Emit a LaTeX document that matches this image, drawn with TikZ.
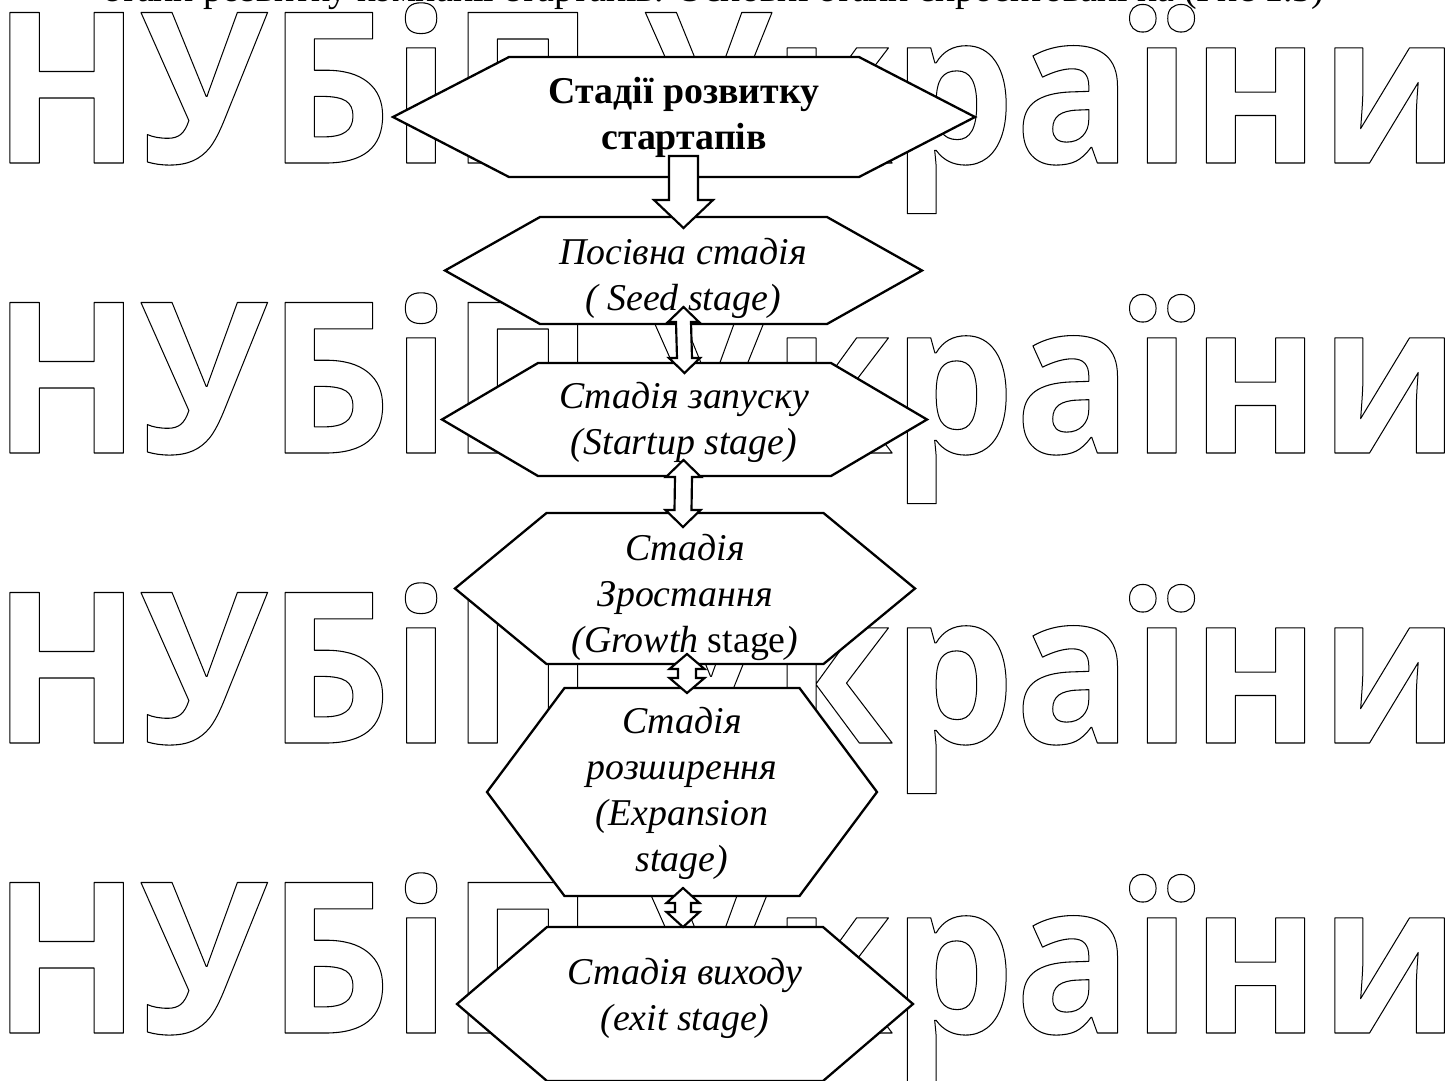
\documentclass[tikz,border=0pt]{standalone}
\usepackage{fontspec}
\setmainfont{Liberation Serif}
\newfontfamily\wmfont{Open Sans}
\usetikzlibrary{calc}

\tikzset{
  hexbox/.style={draw, line width=0.85pt, fill=white},
  blockarrow/.style={draw, line width=0.8pt, fill=white},
  stagetext/.style={align=center, inner sep=0pt, font=\itshape\fontsize{14}{17}\selectfont},
  titletext/.style={align=center, inner sep=0pt, font=\bfseries\fontsize{14}{17}\selectfont},
  wmtext/.style={anchor=base west, inner sep=0pt, font=\wmfont\bfseries\fontsize{78}{80}\selectfont}
}

% esagono: nome, cx, cy, semilarghezza, rientro, semialtezza
\newcommand{\hexa}[6]{%
  \draw[hexbox] (#2-#4,#3) -- (#2-#4+#5,#3+#6) -- (#2+#4-#5,#3+#6) -- (#2+#4,#3)
    -- (#2+#4-#5,#3-#6) -- (#2-#4+#5,#3-#6) -- cycle;
  \coordinate (#1-n) at (#2,#3+#6);
  \coordinate (#1-s) at (#2,#3-#6);
}
% freccia piena: inizio, punta, mezzo fusto, mezza testa, lunghezza testa
\newcommand{\stagearrow}[5]{%
  \draw[blockarrow] ($(#1)+(-#3,0)$) -- ($(#1)+(#3,0)$) -- ($(#2)+(#3,#5)$) -- ($(#2)+(#4,#5)$)
    -- (#2) -- ($(#2)+(-#4,#5)$) -- ($(#2)+(-#3,#5)$) -- cycle;
}
% freccia doppia: punta alta, punta bassa, mezzo fusto, mezza testa, lunghezza testa
\newcommand{\dblstage}[5]{%
  \draw[blockarrow] (#1) -- ($(#1)+(#4,-#5)$) -- ($(#1)+(#3,-#5)$) -- ($(#2)+(#3,#5)$) -- ($(#2)+(#4,#5)$)
    -- (#2) -- ($(#2)+(-#4,#5)$) -- ($(#2)+(-#3,#5)$) -- ($(#1)+(-#3,-#5)$) -- ($(#1)+(-#4,-#5)$) -- cycle;
}
% filigrana solo contorno
\newcommand{\wmline}{\scalebox{0.92}[1]{\special{pdf:literal direct 1 Tr 0.4 w 1 j}НУБіП України\special{pdf:literal direct 0 Tr}}}

\begin{document}
\begin{tikzpicture}[x=0.013cm, y=0.013cm]
    \useasboundingbox (0,0) rectangle (1455,-1080);
    % Riga di testo tagliata in alto
    \node[anchor=base west, inner sep=0pt, font=\fontsize{14}{17}\selectfont] (intro) at (103,-1)
      {етапи розвитку компанії стартапів. Основні етапи спроектовані на (Рис 1.3)};
    % Filigrana
    \foreach \r [count=\i] in {163,453,743,1033}
      \node[wmtext] (wm\i) at (-8,-\r) {\wmline};
    % Esagoni
    \hexa{title}{684}{-117}{291}{116}{60}
    \hexa{seed}{683.5}{-270.5}{238.5}{95}{53.5}
    \hexa{start}{684.5}{-419.5}{242.5}{96}{56.5}
    \hexa{growth}{685}{-588.5}{230}{91.5}{75.5}
    \hexa{exp}{682}{-792}{195}{77.5}{104}
    \hexa{exit}{685}{-1004}{228}{90}{77}
    % Estremi delle frecce
    \coordinate (a0) at ($(title-s)+(-0.5,21)$);
    \coordinate (b0) at ($(seed-n)+(0,-11)$);
    \coordinate (a1) at ($(seed-s)+(0,17)$);
    \coordinate (b1) at ($(start-n)+(0,-10)$);
    \coordinate (a2) at ($(start-s)+(-1,16)$);
    \coordinate (b2) at ($(growth-n)+(-2,-14)$);
    \coordinate (a3) at ($(growth-s)+(2,10)$);
    \coordinate (b3) at ($(exp-n)+(5,-5)$);
    \coordinate (a4) at ($(exp-s)+(1,8)$);
    \coordinate (b4) at ($(exit-n)+(-2,0)$);
    % Frecce
    \stagearrow{a0}{b0}{14.5}{29.5}{28}
    \dblstage{a1}{b1}{7.5}{15.5}{15}
    \dblstage{a2}{b2}{8.5}{17.5}{17}
    \dblstage{a3}{b3}{9}{17.5}{15}
    \dblstage{a4}{b4}{8}{16.5}{15}
    % Testi
    \node[titletext] (title) at (684,-117) {Стадії розвитку\\стартапів};
    \node[stagetext] (seed) at (683,-278) {Посівна стадія\\( Seed stage)};
    \node[stagetext] (start) at (684,-422) {Стадія запуску\\(Startup stage)};
    \node[stagetext] (growth) at (685,-597) {Стадія\\Зростання\\(Growth {\upshape stage})};
    \node[stagetext] (exp) at (682,-793) {Стадія\\розширення\\(Expansion\\stage)};
    \node[stagetext] (exit) at (685,-998) {Стадія виходу\\(exit stage)};
\end{tikzpicture}
\end{document}
